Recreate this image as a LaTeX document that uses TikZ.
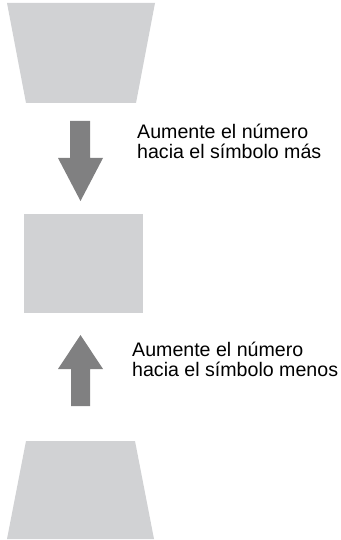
\documentclass[tikz,border=0pt]{standalone}
\usepackage{fontspec}
\setmainfont{Liberation Sans}
\usepackage{tikz}
\definecolor{panelgray}{HTML}{D1D2D4}
\definecolor{arrowgray}{HTML}{808081}

\begin{document}
\begin{tikzpicture}[x=1pt,y=-1pt,
    panel/.style={fill=panelgray,draw=none},
    bigarrow/.style={fill=arrowgray,draw=none},
    caption/.style={anchor=base west,inner sep=0pt,align=left,
        font=\fontsize{19.6}{20}\selectfont}
]
\useasboundingbox (0,0) rectangle (340,540);

% top screen (wider at the top)
\fill[panel] (7,3) -- (155,3) -- (136,103) -- (26,103) -- cycle;

% arrow pointing down
\fill[bigarrow] (70,121) -- (90,121) -- (90,158) -- (103,158)
    -- (80.5,201) -- (58,158) -- (70,158) -- cycle;

\node[caption] (plus) at (137,158) {Aumente el número\\hacia el símbolo más};

% middle screen
\fill[panel] (24,214) rectangle (143,313);

% arrow pointing up
\fill[bigarrow] (71,406) -- (90,406) -- (90,369) -- (103,369)
    -- (80.5,335) -- (58,369) -- (71,369) -- cycle;

\node[caption] (minus) at (132,376) {Aumente el número\\hacia el símbolo menos};

% bottom screen (wider at the bottom)
\fill[panel] (26,441) -- (135,441) -- (154,539) -- (7,539) -- cycle;

\end{tikzpicture}
\end{document}
